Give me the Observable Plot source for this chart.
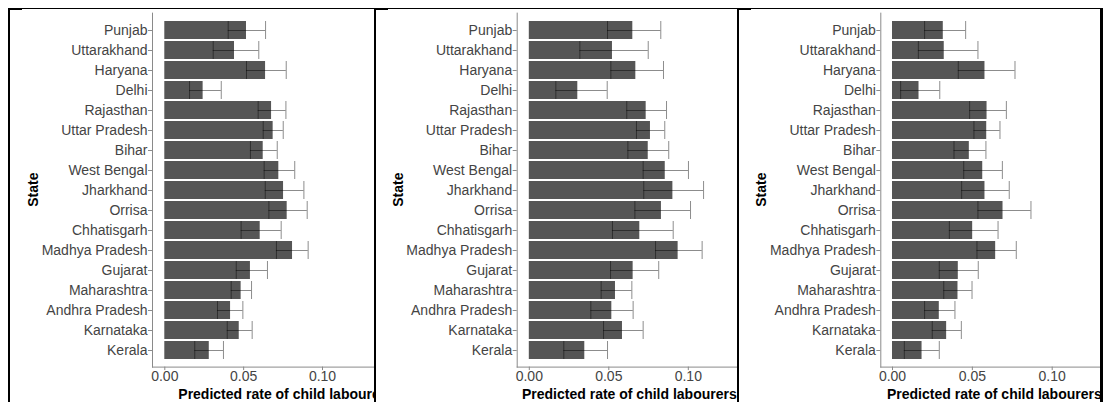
<!DOCTYPE html>
<html><head><meta charset="utf-8">
<script src="https://cdn.jsdelivr.net/npm/d3@7"></script>
<script src="https://cdn.jsdelivr.net/npm/@observablehq/plot@0.6"></script>
<style>
html,body{margin:0;padding:0;background:#fff;}
#chart{position:relative;width:1103px;height:402px;overflow:hidden;background:#fff;font-family:"Liberation Sans",Arial,sans-serif;}
.clip{position:absolute;top:0;height:402px;overflow:hidden;}
.clip svg{position:absolute;top:0;max-width:none !important;}
.line{position:absolute;background:#000;}
</style></head><body><div id="chart"></div>
<script>
// ---- data ----
const states = ["Punjab","Uttarakhand","Haryana","Delhi","Rajasthan","Uttar Pradesh","Bihar","West Bengal","Jharkhand","Orrisa","Chhatisgarh","Madhya Pradesh","Gujarat","Maharashtra","Andhra Pradesh","Karnataka","Kerala"];

const rate1  = [0.0518,0.0442,0.0639,0.0243,0.0677,0.0687,0.0624,0.0723,0.0753,0.0776,0.0605,0.0810,0.0543,0.0484,0.0417,0.0472,0.0282];
const lower1 = [0.0402,0.0307,0.0518,0.0157,0.0592,0.0624,0.0543,0.0630,0.0637,0.0660,0.0484,0.0708,0.0453,0.0421,0.0334,0.0396,0.0190];
const upper1 = [0.0639,0.0596,0.0770,0.0358,0.0768,0.0751,0.0713,0.0824,0.0882,0.0903,0.0738,0.0909,0.0651,0.0550,0.0495,0.0554,0.0372];

const rate2  = [0.0651,0.0523,0.0670,0.0305,0.0735,0.0762,0.0748,0.0855,0.0903,0.0831,0.0695,0.0936,0.0653,0.0542,0.0519,0.0586,0.0349];
const lower2 = [0.0492,0.0318,0.0513,0.0167,0.0613,0.0674,0.0620,0.0716,0.0720,0.0664,0.0523,0.0794,0.0511,0.0452,0.0387,0.0467,0.0217];
const upper2 = [0.0827,0.0748,0.0844,0.0490,0.0863,0.0852,0.0877,0.1001,0.1096,0.1014,0.0905,0.1087,0.0814,0.0645,0.0653,0.0716,0.0492];

const rate3  = [0.0318,0.0324,0.0579,0.0166,0.0592,0.0590,0.0481,0.0565,0.0579,0.0692,0.0502,0.0646,0.0412,0.0410,0.0293,0.0339,0.0185];
const lower3 = [0.0201,0.0162,0.0412,0.0051,0.0483,0.0510,0.0385,0.0446,0.0433,0.0535,0.0356,0.0529,0.0293,0.0321,0.0201,0.0249,0.0074];
const upper3 = [0.0458,0.0535,0.0767,0.0296,0.0713,0.0673,0.0585,0.0688,0.0731,0.0867,0.0661,0.0775,0.0537,0.0498,0.0391,0.0431,0.0293];

const xTicks = [0, 0.05, 0.10];
const xTickLabels = ["0.00", "0.05", "0.10"];
const yTitle = "State";
const xTitle = "Predicted rate of child labourers";

// ---- layout ----
const FONT = '"Liberation Sans", Arial, sans-serif';
const TOP = 12.65, BOTTOM = 366.6, H = 402;
const panels = [
  {rate: rate1, lower: lower1, upper: upper1, clipL: 10,    clipR: 373.5, axis: 152,   zero: 164.3, slope: 1577, titleStart: 178.3},
  {rate: rate2, lower: lower2, upper: upper2, clipL: 375.5, clipR: 737,   axis: 516.7, zero: 528.8, slope: 1590, titleStart: 522},
  {rate: rate3, lower: lower3, upper: upper3, clipL: 739.5, clipR: 1099.5, axis: 880.3, zero: 892, slope: 1597, titleStart: 887}
];

const chart = document.getElementById("chart");

function makePanel(cfg) {
  const rows = states.map((s, i) => ({state: s, rate: cfg.rate[i], lo: cfg.lower[i], hi: cfg.upper[i]}));
  const xlo = -(cfg.zero - cfg.axis) / cfg.slope;
  const xhi = 0.17;
  const rEnd = cfg.axis + (xhi - xlo) * cfg.slope;
  const width = Math.ceil(rEnd) + 5;
  const errStyle = {stroke: "#000", strokeOpacity: 0.45, strokeWidth: 1};
  const plot = Plot.plot({
    width, height: H,
    marginLeft: cfg.axis, marginRight: width - rEnd, marginTop: TOP, marginBottom: H - BOTTOM,
    style: {fontFamily: FONT, fontSize: "14px", background: "transparent", color: "#444", overflow: "visible"},
    x: {domain: [xlo, xhi], range: [cfg.axis, rEnd]},
    y: {domain: states, paddingInner: 0.1, paddingOuter: 0.15},
    marks: [
      Plot.barX(rows, {x: "rate", y: "state", fill: "#555555"}),
      Plot.ruleY(rows, {y: "state", x1: "lo", x2: "hi", ...errStyle}),
      Plot.tickX(rows, {x: "lo", y: "state", ...errStyle}),
      Plot.tickX(rows, {x: "hi", y: "state", ...errStyle}),
      Plot.axisY({tickSize: 4, tickPadding: 1, label: null, stroke: "#8a8a8a", color: "#444", fill: "#444"}),
      Plot.axisX({ticks: xTicks, tickFormat: d => xTickLabels[xTicks.indexOf(d)], tickSize: 3.5, tickPadding: 0, label: null, stroke: "#8a8a8a", color: "#444", fill: "#444"}),
      Plot.frame({anchor: "left", stroke: "#8a8a8a"}),
      Plot.frame({anchor: "bottom", stroke: "#8a8a8a"})
    ]
  });
  const svg = d3.select(plot);
  svg.append("text")
    .attr("x", cfg.titleStart).attr("y", 399)
    .attr("text-anchor", "start")
    .attr("font-weight", "bold").attr("font-size", 14).attr("fill", "#000")
    .attr("font-family", FONT)
    .text(xTitle);
  svg.append("text")
    .attr("transform", `translate(${cfg.axis - 119},${(TOP + BOTTOM) / 2}) rotate(-90)`)
    .attr("text-anchor", "middle").attr("dy", "0.35em")
    .attr("font-weight", "bold").attr("font-size", 14).attr("fill", "#000")
    .attr("font-family", FONT)
    .text(yTitle);
  const wrap = document.createElement("div");
  wrap.className = "clip";
  wrap.style.left = cfg.clipL + "px";
  wrap.style.width = (cfg.clipR - cfg.clipL) + "px";
  plot.style.left = (-cfg.clipL) + "px";
  plot.style.width = width + "px";
  plot.style.height = H + "px";
  plot.style.maxWidth = "none";
  wrap.appendChild(plot);
  chart.appendChild(wrap);
}
panels.forEach(makePanel);

// black frame lines of the composite image
function line(l, t, w, h) {
  const d = document.createElement("div");
  d.className = "line";
  Object.assign(d.style, {left: l + "px", top: t + "px", width: w + "px", height: h + "px"});
  chart.appendChild(d);
}
line(8, 7.5, 1095, 1.2);
[[8, 2], [373.5, 2.2], [737, 2.2], [1099.5, 3.5]].forEach(([x, w]) => {
  line(x, 7.5, w, H);
  line(x, 7.5, 14, 2.3);
});
</script></body></html>
